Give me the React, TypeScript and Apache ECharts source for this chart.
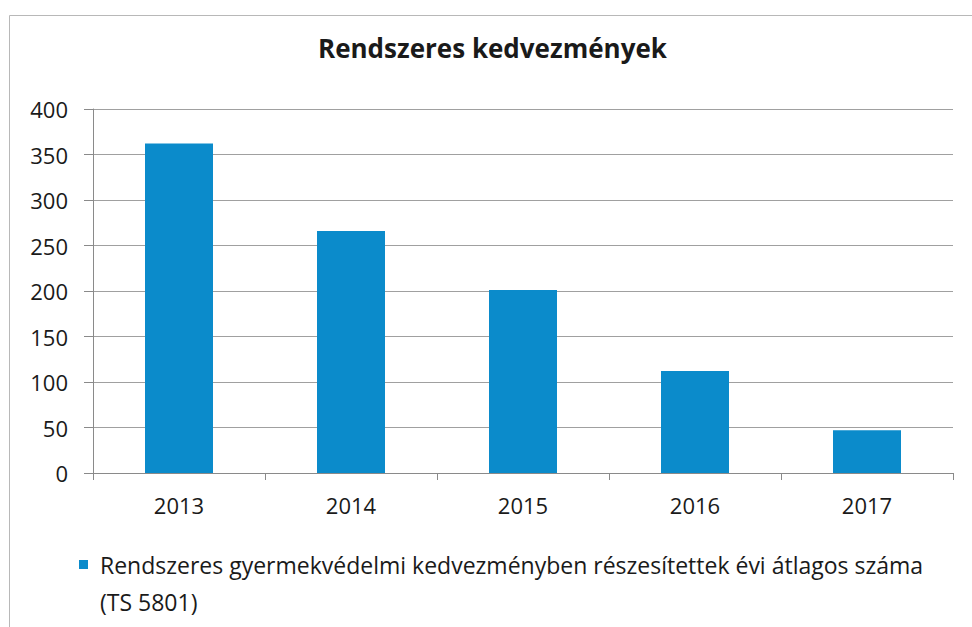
import React, { useEffect, useRef } from "react";
import * as echarts from "echarts";

const titleText = "Rendszeres kedvezmények";
const categories = ["2013", "2014", "2015", "2016", "2017"];
const seriesName = "Rendszeres gyermekvédelmi kedvezményben részesítettek évi átlagos száma";
const legendSecondLine = "(TS 5801)";
const values = [362, 266, 201, 112, 47];
const yMin = 0;
const yMax = 400;
const yInterval = 50;

const FONT = "'Open Sans', 'Noto Sans', sans-serif";

export default function App() {
  const ref = useRef<HTMLDivElement>(null);
  useEffect(() => {
    document.body.style.margin = "0";
    if (!ref.current) return;
    const chart = echarts.init(ref.current, undefined, { renderer: "svg" });
    chart.setOption({
      animation: false,
      backgroundColor: "#ffffff",
      textStyle: { fontFamily: FONT },
      title: {
        text: titleText,
        left: 318,
        top: 35,
        padding: 0,
        textStyle: { fontSize: 26, fontWeight: "bold", color: "#1a1a1a", fontFamily: FONT },
      },
      graphic: [
        {
          type: "rect",
          shape: { x: 9.5, y: 15.5, width: 980, height: 640 },
          style: { fill: "none", stroke: "#b8b8b8", lineWidth: 1 },
          silent: true,
        },
      ],
      legend: {
        left: 79,
        top: 509,
        padding: 0,
        itemWidth: 9,
        itemHeight: 9,
        icon: "rect",
        data: [seriesName],
        formatter: (n: string) => "\n" + n + "\n" + legendSecondLine,
        textStyle: {
          fontSize: 23,
          lineHeight: 37,
          color: "#1a1a1a",
          fontFamily: FONT,
          padding: [0, 0, 0, 7],
        },
      },
      grid: { left: 93, right: 19, top: 109, bottom: 154, containLabel: false },
      xAxis: {
        type: "category",
        data: categories,
        axisLine: { show: true, lineStyle: { color: "#8a8a8a", width: 1 } },
        axisTick: { show: true, length: 7, lineStyle: { color: "#8a8a8a" } },
        axisLabel: { fontSize: 22, color: "#1a1a1a", margin: 21, fontFamily: FONT },
      },
      yAxis: {
        type: "value",
        min: yMin,
        max: yMax,
        interval: yInterval,
        axisLine: { show: true, lineStyle: { color: "#8a8a8a", width: 1 } },
        axisTick: { show: true, length: 9, lineStyle: { color: "#8a8a8a" } },
        axisLabel: { fontSize: 22, color: "#1a1a1a", margin: 25, fontFamily: FONT },
        splitLine: { show: true, lineStyle: { color: "#a0a0a0", width: 1 } },
      },
      series: [
        {
          name: seriesName,
          type: "bar",
          data: values,
          barWidth: 68,
          itemStyle: { color: "#0b8bcb" },
        },
      ],
    });
    return () => chart.dispose();
  }, []);
  return <div ref={ref} style={{ width: 972, height: 627 }} />;
}
